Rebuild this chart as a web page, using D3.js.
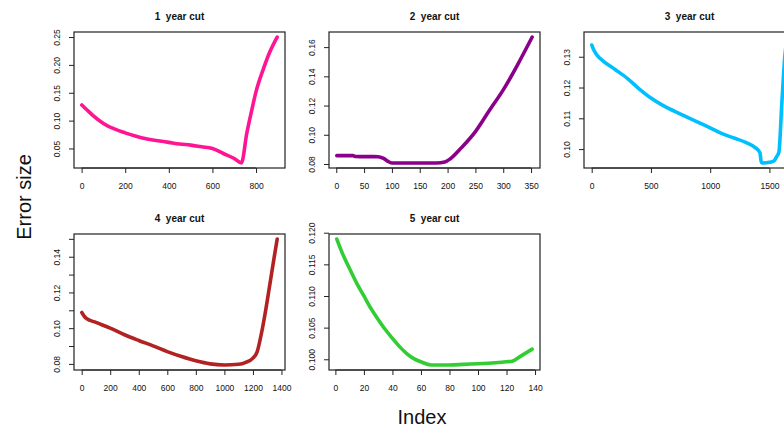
<!DOCTYPE html>
<html>
<head>
<meta charset="utf-8">
<script src="https://cdn.jsdelivr.net/npm/d3@7"></script>
<style>
  html, body { margin: 0; padding: 0; background: #fff; }
  svg text { font-family: "Liberation Sans", Arial, sans-serif; white-space: pre; }
</style>
</head>
<body>
<div class="cut-chart"></div>
<script>
// 每个面板的数据 (index, error size)
let cut1Index = [1, 25, 50, 100, 150, 200, 250, 300, 350, 400, 450, 500, 550, 600, 650, 700, 733, 757, 780, 800, 833, 864, 897]
let cut1Error = [0.128, 0.119, 0.110, 0.095, 0.085, 0.078, 0.072, 0.067, 0.064, 0.061, 0.058, 0.056, 0.053, 0.050, 0.041, 0.032, 0.024, 0.076, 0.118, 0.152, 0.192, 0.224, 0.250]

let cut2Index = [1, 30, 35, 75, 85, 92, 100, 180, 195, 205, 225, 250, 275, 300, 325, 352]
let cut2Error = [0.0857, 0.0857, 0.0851, 0.0850, 0.0838, 0.0820, 0.0807, 0.0807, 0.0814, 0.0836, 0.0912, 0.1022, 0.1166, 0.1307, 0.1474, 0.1669]

let cut3Index = [1, 20, 50, 100, 200, 300, 400, 500, 600, 750, 900, 1000, 1100, 1200, 1300, 1380, 1420, 1432, 1450, 1500, 1540, 1560, 1580, 1605, 1630, 1650]
let cut3Error = [0.1338, 0.1320, 0.1303, 0.1285, 0.1258, 0.1230, 0.1196, 0.1166, 0.1142, 0.1114, 0.1087, 0.1069, 0.1050, 0.1036, 0.1022, 0.1005, 0.0988, 0.0957, 0.0955, 0.0957, 0.0962, 0.0975, 0.0990, 0.1150, 0.1300, 0.1364]

let cut4Index = [1, 30, 100, 200, 300, 400, 500, 600, 700, 800, 900, 1000, 1100, 1150, 1200, 1230, 1260, 1290, 1320, 1350, 1370]
let cut4Error = [0.1088, 0.1056, 0.1032, 0.1000, 0.0963, 0.0931, 0.0901, 0.0869, 0.0841, 0.0817, 0.0800, 0.0794, 0.0798, 0.0809, 0.0832, 0.0869, 0.0972, 0.1103, 0.1252, 0.1402, 0.1499]

let cut5Index = [1, 5, 10, 15, 20, 25, 30, 35, 40, 45, 50, 55, 60, 67, 80, 90, 100, 110, 120, 124, 130, 138]
let cut5Error = [0.1190, 0.1167, 0.1143, 0.1120, 0.1100, 0.1080, 0.1063, 0.1047, 0.1033, 0.1020, 0.1009, 0.1001, 0.0996, 0.0991, 0.0991, 0.0992, 0.0993, 0.0994, 0.0996, 0.0997, 0.1005, 0.1016]

let titles = ["1  year cut", "2  year cut", "3  year cut", "4  year cut", "5  year cut"]
let colors = ["#FF1493", "#8B008B", "#00BFFF", "#B22222", "#32CD32"]

// 刻度
let xTicks = [
    [0, 200, 400, 600, 800],
    [0, 50, 100, 150, 200, 250, 300, 350],
    [0, 500, 1000, 1500],
    [0, 200, 400, 600, 800, 1000, 1200, 1400],
    [0, 20, 40, 60, 80, 100, 120, 140]
]
let yTicks = [
    [0.05, 0.10, 0.15, 0.20, 0.25],
    [0.08, 0.10, 0.12, 0.14, 0.16],
    [0.10, 0.11, 0.12, 0.13],
    [0.08, 0.09, 0.10, 0.11, 0.12, 0.13, 0.14, 0.15],
    [0.100, 0.105, 0.110, 0.115, 0.120]
]
let yLabels = [
    ["0.05", "0.10", "0.15", "0.20", "0.25"],
    ["0.08", "0.10", "0.12", "0.14", "0.16"],
    ["0.10", "0.11", "0.12", "0.13"],
    ["0.08", "", "0.10", "", "0.12", "", "0.14", ""],
    ["0.100", "0.105", "0.110", "0.115", "0.120"]
]

let indexes = [cut1Index, cut2Index, cut3Index, cut4Index, cut5Index]
let errors = [cut1Error, cut2Error, cut3Error, cut4Error, cut5Error]

let width = 784, height = 428
let svg = d3.select(".cut-chart")
    .append("svg")
    .attr("width", width)
    .attr("height", height)

//面板布局 (2行3列)
let boxW = 211, boxH = 136
let colX = [74, 329, 584], rowY = [32, 234]

// R风格的4%留白
function padded(ext) {
    let d = (ext[1] - ext[0]) * 0.04
    return [ext[0] - d, ext[1] + d]
}

titles.forEach((title, i) => {
    let x0 = colX[i % 3], y0 = rowY[Math.floor(i / 3)]
    let pts = indexes[i].map((v, k) => ({ x: v, y: errors[i][k] }))
    let x = d3.scaleLinear().domain(padded(d3.extent(pts, d => d.x))).range([0, boxW])
    let y = d3.scaleLinear().domain(padded(d3.extent(pts, d => d.y))).range([boxH, 0])

    let g = svg.append("g").attr("transform", `translate(${x0},${y0})`)

    //折线
    let line = d3.line().x(d => x(d.x)).y(d => y(d.y)).curve(d3.curveMonotoneX)
    g.append("path")
        .datum(pts)
        .attr("fill", "none")
        .attr("stroke", colors[i])
        .attr("stroke-width", 3.6)
        .attr("stroke-linejoin", "round")
        .attr("stroke-linecap", "round")
        .attr("d", line)

    //x轴
    let xa = g.append("g")
        .attr("transform", `translate(0,${boxH})`)
        .call(d3.axisBottom(x).tickValues(xTicks[i]).tickSize(5).tickSizeOuter(0).tickFormat(d3.format("d")))
    xa.select(".domain").remove()
    xa.append("line")
        .attr("x1", x(xTicks[i][0])).attr("x2", x(xTicks[i][xTicks[i].length - 1]))
        .attr("stroke", "#222")
    xa.selectAll(".tick line").attr("stroke", "#222")
    xa.selectAll("text")
        .attr("y", 21).attr("dy", 0)
        .attr("font-size", 8.5)
        .attr("fill", "#111")

    //y轴 (标签竖排)
    let ya = g.append("g")
        .call(d3.axisLeft(y).tickValues(yTicks[i]).tickSize(5).tickSizeOuter(0).tickFormat((d, k) => yLabels[i][k]))
    ya.select(".domain").remove()
    ya.selectAll(".tick line").attr("stroke", "#222")
    ya.selectAll("text")
        .attr("x", 0).attr("y", -14.5).attr("dy", 0)
        .attr("transform", "rotate(-90)")
        .attr("text-anchor", "middle")
        .attr("font-size", 8.5)
        .attr("fill", "#111")

    //边框
    g.append("rect")
        .attr("width", boxW).attr("height", boxH)
        .attr("fill", "none")
        .attr("stroke", "#222")
        .attr("stroke-width", 1.2)

    //标题
    g.append("text")
        .attr("x", boxW / 2)
        .attr("y", -12)
        .attr("text-anchor", "middle")
        .attr("font-size", 10)
        .attr("font-weight", "bold")
        .attr("fill", "#111")
        .text(title)
})

//外部轴标题
svg.append("text")
    .attr("transform", "translate(31,197) rotate(-90)")
    .attr("text-anchor", "middle")
    .attr("font-size", 20)
    .attr("fill", "#111")
    .text("Error size")
svg.append("text")
    .attr("x", 422)
    .attr("y", 424)
    .attr("text-anchor", "middle")
    .attr("font-size", 20)
    .attr("fill", "#111")
    .text("Index")
</script>
</body>
</html>
